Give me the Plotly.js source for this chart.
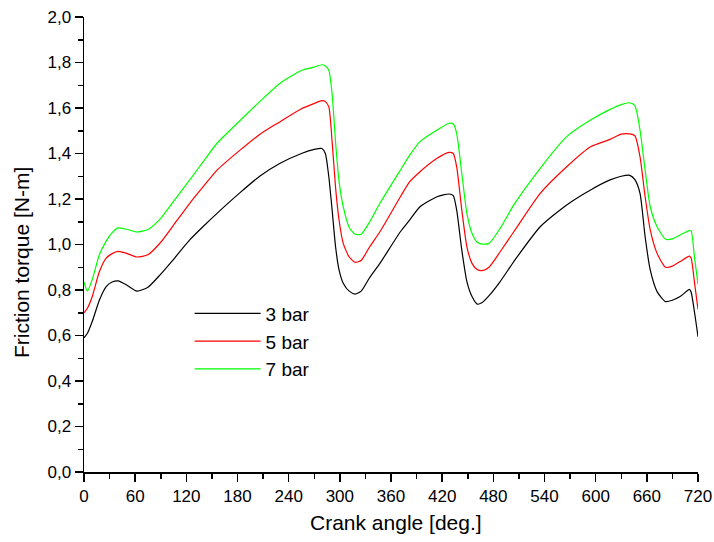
<!DOCTYPE html>
<html>
<head>
<meta charset="utf-8">
<script src="https://cdn.plot.ly/plotly-3.0.1.min.js"></script>
<style>
  html, body { margin: 0; padding: 0; background: #fff; }
  #chart { width: 714px; height: 542px; }
</style>
</head>
<body>
<div id="chart"></div>
<script>
// Crank angle samples [deg.]
const crankAngle = [
  0, 4, 10, 18, 26, 33, 40, 50, 62, 75, 90, 105, 124, 140, 156, 183, 206, 230, 255, 270,
  279, 283, 287, 291, 295, 299, 304, 311, 318, 325, 335, 347, 371, 382, 394, 414, 428, 433,
  437, 443, 449, 455, 461, 467, 475, 488, 504, 535, 566, 594, 617, 630, 640, 646, 652, 658,
  664, 672, 682, 690, 699, 710, 712, 716, 720
];

// Friction torque [N-m] at 3 bar
const torque3bar = [
  0.59, 0.61, 0.665, 0.755, 0.815, 0.835, 0.84, 0.822, 0.795, 0.812, 0.87, 0.935, 1.02, 1.08, 1.137, 1.228, 1.30, 1.357, 1.40, 1.418,
  1.422, 1.40, 1.30, 1.15, 0.99, 0.89, 0.83, 0.795, 0.782, 0.795, 0.855, 0.917, 1.056, 1.108, 1.166, 1.21, 1.222, 1.215,
  1.152, 0.976, 0.837, 0.771, 0.738, 0.745, 0.775, 0.837, 0.925, 1.078, 1.174, 1.24, 1.284, 1.30, 1.304, 1.285, 1.225, 1.034,
  0.888, 0.793, 0.749, 0.755, 0.771, 0.803, 0.79, 0.70, 0.595
];

// Friction torque [N-m] at 5 bar
const torque5bar = [
  0.70, 0.72, 0.775, 0.88, 0.94, 0.96, 0.97, 0.961, 0.945, 0.955, 1.01, 1.085, 1.181, 1.255, 1.327, 1.415, 1.484, 1.54, 1.597, 1.62,
  1.632, 1.628, 1.606, 1.45, 1.25, 1.11, 1.005, 0.945, 0.922, 0.93, 0.99, 1.056, 1.21, 1.276, 1.32, 1.379, 1.405, 1.40,
  1.342, 1.152, 0.99, 0.917, 0.89, 0.885, 0.90, 0.968, 1.056, 1.225, 1.342, 1.43, 1.462, 1.485, 1.486, 1.478, 1.386, 1.21,
  1.064, 0.961, 0.90, 0.905, 0.925, 0.949, 0.94, 0.83, 0.715
];

// Friction torque [N-m] at 7 bar
const torque7bar = [
  0.835, 0.795, 0.85, 0.955, 1.015, 1.052, 1.073, 1.067, 1.055, 1.066, 1.115, 1.19, 1.284, 1.365, 1.445, 1.545, 1.628, 1.709, 1.765, 1.78,
  1.79, 1.785, 1.767, 1.66, 1.45, 1.28, 1.166, 1.075, 1.045, 1.045, 1.10, 1.181, 1.327, 1.393, 1.452, 1.503, 1.533, 1.53,
  1.488, 1.313, 1.137, 1.049, 1.01, 1.002, 1.005, 1.071, 1.174, 1.335, 1.474, 1.547, 1.594, 1.615, 1.623, 1.61, 1.503, 1.327,
  1.166, 1.078, 1.023, 1.025, 1.042, 1.061, 1.06, 0.94, 0.826
];

const seriesNames = ['3 bar', '5 bar', '7 bar'];
const seriesColors = ['#000000', '#ff0000', '#00ff00'];
const seriesValues = [torque3bar, torque5bar, torque7bar];

const traces = seriesValues.map((vals, i) => ({
  type: 'scatter',
  mode: 'lines',
  name: seriesNames[i],
  x: crankAngle,
  y: vals,
  line: { color: seriesColors[i], width: 1.2, shape: 'spline', smoothing: 0.6 }
}));

const FAMILY = '"Liberation Sans", Arial, sans-serif';
const tickFont = { family: FAMILY, size: 17, color: '#000' };
const titleFont = { family: FAMILY, size: 21, color: '#000' };

const layout = {
  width: 714,
  height: 542,
  margin: { l: 84, r: 16, t: 17, b: 70 },
  paper_bgcolor: '#fff',
  plot_bgcolor: '#fff',
  separators: ',.',
  showlegend: true,
  font: tickFont,
  xaxis: {
    range: [0, 720],
    dtick: 60,
    tick0: 0,
    ticks: 'outside',
    ticklen: 8,
    tickwidth: 1.5,
    tickcolor: '#000',
    showline: true,
    linecolor: '#000',
    linewidth: 1.5,
    showgrid: false,
    zeroline: false,
    tickfont: tickFont,
    minor: { dtick: 30, ticks: 'outside', ticklen: 5, tickwidth: 1.5, tickcolor: '#000', showgrid: false }
  },
  yaxis: {
    range: [0, 2],
    dtick: 0.2,
    tick0: 0,
    tickformat: '.1f',
    ticks: 'outside',
    ticklen: 8,
    tickwidth: 1.5,
    tickcolor: '#000',
    showline: true,
    linecolor: '#000',
    linewidth: 1.5,
    showgrid: false,
    zeroline: false,
    tickfont: tickFont,
    minor: { dtick: 0.1, ticks: 'outside', ticklen: 5, tickwidth: 1.5, tickcolor: '#000', showgrid: false }
  },
  // Axis titles placed as paper-anchored annotations
  annotations: [
    {
      text: 'Crank angle [deg.]',
      xref: 'paper', yref: 'paper',
      x: 0.508, y: -0.112,
      xanchor: 'center', yanchor: 'middle',
      showarrow: false,
      font: titleFont
    },
    {
      text: 'Friction torque [N-m]',
      xref: 'paper', yref: 'paper',
      x: -0.102, y: 0.46,
      xanchor: 'center', yanchor: 'middle',
      textangle: -90,
      showarrow: false,
      font: titleFont
    }
  ],
  legend: {
    x: 0.172,
    y: 0.39,
    xanchor: 'left',
    yanchor: 'top',
    bgcolor: 'rgba(0,0,0,0)',
    borderwidth: 0,
    itemwidth: 66,
    font: { family: FAMILY, size: 19, color: '#000' }
  }
};

Plotly.newPlot('chart', traces, layout, { displayModeBar: false, staticPlot: true });
</script>
</body>
</html>
